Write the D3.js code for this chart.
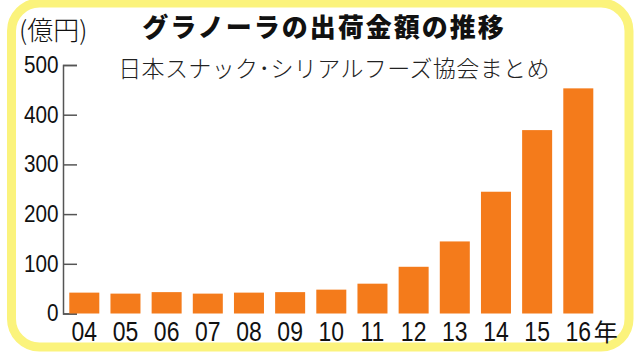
<!DOCTYPE html>
<html>
<head>
<meta charset="utf-8">
<script src="https://cdn.jsdelivr.net/npm/d3@7"></script>
<style>
  body { margin: 0; background: #fff; }
  svg { display: block; }
</style>
</head>
<body>
<div id="chart"></div>
<script>
// 出荷金額（億円）
const years = ["04", "05", "06", "07", "08", "09", "10", "11", "12", "13", "14", "15", "16"];
const values = [42, 40, 43, 40, 42, 43, 48, 60, 94, 145, 245, 369, 453];
const yTicks = [0, 100, 200, 300, 400, 500];
const title = "グラノーラの出荷金額の推移";
const source = "日本スナック･シリアルフーズ協会まとめ";
const unitLabel = "(億円)";
const yearSuffix = "年";

const width = 640;
const height = 352;
const jpFont = "'Noto Sans CJK JP', 'Noto Sans', sans-serif";
const numFont = "'Liberation Sans', Arial, sans-serif";

const svg = d3.select("#chart").append("svg")
    .attr("width", width)
    .attr("height", height);

// yellow rounded frame
svg.append("rect")
    .attr("x", 11.5)
    .attr("y", 3)
    .attr("width", 617.5)
    .attr("height", 344)
    .attr("rx", 28)
    .attr("fill", "#fff")
    .attr("stroke", "#fbf37c")
    .attr("stroke-width", 9);

const x = d3.scaleBand()
    .domain(years)
    .range([63, 599.6])
    .paddingInner(0.271)
    .paddingOuter(0.153);

const y = d3.scaleLinear()
    .domain([0, 500])
    .range([313.5, 65]);

// y axis, ticks pointing into the plot
const yAxis = svg.append("g")
    .attr("transform", "translate(63,0)")
    .call(d3.axisLeft(y).tickValues(yTicks).tickSize(-14).tickPadding(5));
yAxis.select(".domain").attr("stroke", "#555").attr("stroke-width", 1.5);
yAxis.selectAll(".tick line").attr("stroke", "#555").attr("stroke-width", 1.5);
yAxis.selectAll(".tick text")
    .attr("fill", "#111")
    .style("font-family", numFont)
    .style("font-size", "23px")
    .attr("transform", "scale(0.9,1)");

// bars
svg.selectAll(".bar")
    .data(values)
    .enter().append("rect")
    .attr("class", "bar")
    .attr("x", (d, i) => x(years[i]))
    .attr("y", d => y(d))
    .attr("width", x.bandwidth())
    .attr("height", d => y(0) - y(d))
    .attr("fill", "#f47b1b");

// x axis labels
const xAxis = svg.append("g")
    .attr("transform", `translate(0,${y(0)})`)
    .call(d3.axisBottom(x).tickSize(0).tickPadding(8));
xAxis.select(".domain").remove();
xAxis.selectAll(".tick text")
    .attr("fill", "#111")
    .style("font-family", numFont)
    .style("font-size", "28px")
    .attr("transform", "scale(0.82,1)");

svg.append("text")
    .attr("x", x(years[years.length - 1]) + x.bandwidth() + 0.5)
    .attr("y", 341)
    .attr("fill", "#111")
    .style("font-family", jpFont)
    .style("font-size", "24px")
    .text(yearSuffix);

// unit
svg.append("text")
    .attr("x", 19)
    .attr("y", 40)
    .attr("fill", "#111")
    .style("font-family", jpFont)
    .style("font-size", "26px")
    .style("font-weight", 300)
    .text(unitLabel);

// title
svg.append("text")
    .attr("x", 324)
    .attr("y", 37)
    .attr("text-anchor", "middle")
    .attr("fill", "#111")
    .style("font-family", jpFont)
    .style("font-size", "26px")
    .style("font-weight", 900)
    .style("letter-spacing", "2px")
    .text(title);

// source
svg.append("text")
    .attr("x", 334)
    .attr("y", 77)
    .attr("text-anchor", "middle")
    .attr("fill", "#222")
    .style("font-family", jpFont)
    .style("font-size", "23px")
    .style("font-weight", 300)
    .style("letter-spacing", "0.4px")
    .text(source);
</script>
</body>
</html>
